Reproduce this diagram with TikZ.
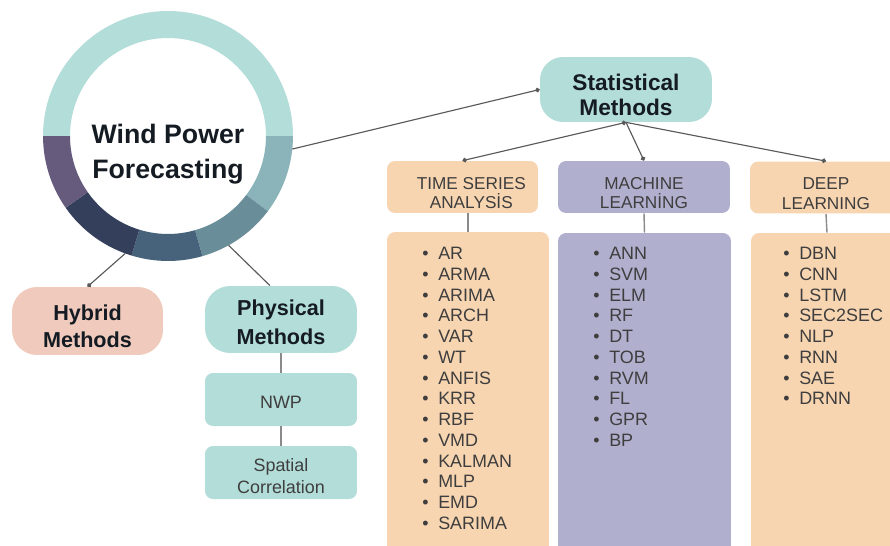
\documentclass[tikz,border=0pt]{standalone}
\usepackage{fontspec}
\setmainfont{Liberation Sans}
\usetikzlibrary{arrows.meta,calc}

\definecolor{ringtop}{HTML}{B3DDD8}
\definecolor{ringa}{HTML}{8AB4BA}
\definecolor{ringb}{HTML}{6A8D9A}
\definecolor{ringc}{HTML}{46637B}
\definecolor{ringd}{HTML}{343F5C}
\definecolor{ringe}{HTML}{665B7D}
\definecolor{tealbox}{HTML}{B3DDD8}
\definecolor{hybfill}{HTML}{F0CBBD}
\definecolor{peach}{HTML}{F8D5B1}
\definecolor{lav}{HTML}{B1AFCE}
\definecolor{titleink}{HTML}{151B22}
\definecolor{itemink}{HTML}{3E3E3E}
\definecolor{linkgray}{HTML}{5A5A5A}
\definecolor{stemgray}{HTML}{8A8A8A}

\tikzset{
  pill/.style={rectangle, rounded corners=0.46cm, fill=tealbox, inner sep=0pt,
    align=center, text=titleink, font=\bfseries\fontsize{12.3}{15}\selectfont},
  subbox/.style={rectangle, rounded corners=0.16cm, fill=tealbox, inner sep=0pt,
    minimum width=3.04cm, minimum height=1.06cm, align=center, text=itemink,
    font=\fontsize{10.2}{12.5}\selectfont},
  headbox/.style={rectangle, rounded corners=0.16cm, inner sep=0pt, align=center,
    minimum height=1.04cm, text=itemink, font=\fontsize{9.8}{11}\selectfont},
  listbox/.style={rectangle, rounded corners=0.16cm, inner sep=0pt, minimum height=6.56cm},
  listtext/.style={anchor=north west, inner sep=0pt, align=left, text=itemink,
    font=\fontsize{10.2}{11.8}\selectfont},
  link/.style={draw=linkgray, line width=0.65pt},
  dotlink/.style={link, -{Circle[length=2.6pt]}},
  stem/.style={draw=stemgray, line width=0.8pt}
}
\newcommand\bitem[1]{\textbullet\hspace{5.5pt}#1}
\newcommand\lift[1]{\rule{0pt}{\dimexpr0.74em+#1\relax}}

\begin{document}
\begin{tikzpicture}[x=0.02cm, y=-0.02cm]
\useasboundingbox (0,0) rectangle (890,545);
\clip (0,0) rectangle (890,545);

% ring round the title
\coordinate (c) at (168,136);
\foreach \a/\b/\col in {0/180/ringtop, 0/-37/ringa, -37/-74/ringb, -74/-107/ringc, -107/-145/ringd, -145/-180/ringe}
  \fill[\col] ($(c)+(\a:2.5cm)$) arc[start angle=\a, end angle=\b, radius=2.5cm]
    -- ($(c)+(\b:1.96cm)$) arc[start angle=\b, end angle=\a, radius=1.96cm] -- cycle;
\node[circle, minimum size=5cm, inner sep=0pt, outer sep=0pt] (ring) at (c) {};
\node[align=center, text=titleink, font=\bfseries\fontsize{15.2}{19.9}\selectfont] (wpf) at (168,150) {\lift{4pt}Wind Power\\Forecasting};

% main branches
\node[pill, minimum width=3.44cm, minimum height=1.3cm, font=\bfseries\fontsize{12.9}{14.5}\selectfont] (stat) at (626,89.5) {\lift{6.2pt}Statistical\\Methods};
\node[pill, fill=hybfill, minimum width=3.02cm, minimum height=1.36cm, rounded corners=0.5cm] (hyb) at (87.5,321) {\lift{5.7pt}Hybrid\\Methods};
\node[pill, minimum width=3.04cm, minimum height=1.34cm, rounded corners=0.5cm, font=\bfseries\fontsize{12.3}{16.4}\selectfont] (phy) at (281,319.5) {\lift{3.4pt}Physical\\Methods};

% physical methods
\node[subbox] (nwp) at (281,399.5) {\lift{2.4pt}NWP};
\node[subbox] (spc) at (281,472.5) {\lift{3.4pt}Spatial\\Correlation};

% statistical families
\node[headbox, fill=peach, minimum width=3.02cm] (tsa) at (462.5,187) {\lift{6.6pt}\hspace*{10pt}TIME SERIES\\\hspace*{10pt}ANALYSİS};
\node[headbox, fill=lav, minimum width=3.44cm] (ml) at (644,187) {\lift{6.6pt}MACHINE\\LEARNİNG};
\node[headbox, fill=peach, minimum width=3.04cm] (dl) at (826,187.5) {\lift{6.6pt}DEEP\\LEARNING};

\node[listbox, fill=peach, minimum width=3.24cm] (tsal) at (468,396) {};
\node[listbox, fill=lav, minimum width=3.46cm] (mll) at (644.5,397) {};
\node[listbox, fill=peach, minimum width=3.04cm] (dll) at (827,397) {};

\node[listtext] (tsaitems) at (422,247) {\bitem{AR}\\\bitem{ARMA}\\\bitem{ARIMA}\\\bitem{ARCH}\\\bitem{VAR}\\\bitem{WT}\\\bitem{ANFIS}\\\bitem{KRR}\\\bitem{RBF}\\\bitem{VMD}\\\bitem{KALMAN}\\\bitem{MLP}\\\bitem{EMD}\\\bitem{SARIMA}};
\node[listtext] (mlitems) at (593,247) {\bitem{ANN}\\\bitem{SVM}\\\bitem{ELM}\\\bitem{RF}\\\bitem{DT}\\\bitem{TOB}\\\bitem{RVM}\\\bitem{FL}\\\bitem{GPR}\\\bitem{BP}};
\node[listtext] (dlitems) at (783,247) {\bitem{DBN}\\\bitem{CNN}\\\bitem{LSTM}\\\bitem{SEC2SEC}\\\bitem{NLP}\\\bitem{RNN}\\\bitem{SAE}\\\bitem{DRNN}};

% connectors
\draw[dotlink] (ring.-6) -- (stat.west);
\draw[dotlink] (ring.-110) -- (hyb.north);
\draw[link] (ring.-61) -- (phy.108);
\draw[dotlink, {Circle[length=2.6pt]}-{Circle[length=2.6pt]}] (stat.south) -- (tsa.north);
\draw[dotlink] (stat.south) -- (ml.north);
\draw[dotlink] (stat.south) -- (dl.north);

\draw[stem] (phy.south) -- (nwp.north);
\draw[stem] (nwp.south) -- (spc.north);
\draw[stem] (tsa.south -| tsal.north) -- (tsal.north);
\draw[stem] (ml.south) -- (mll.north);
\draw[stem] (dl.south) -- (dll.north);
\end{tikzpicture}
\end{document}
